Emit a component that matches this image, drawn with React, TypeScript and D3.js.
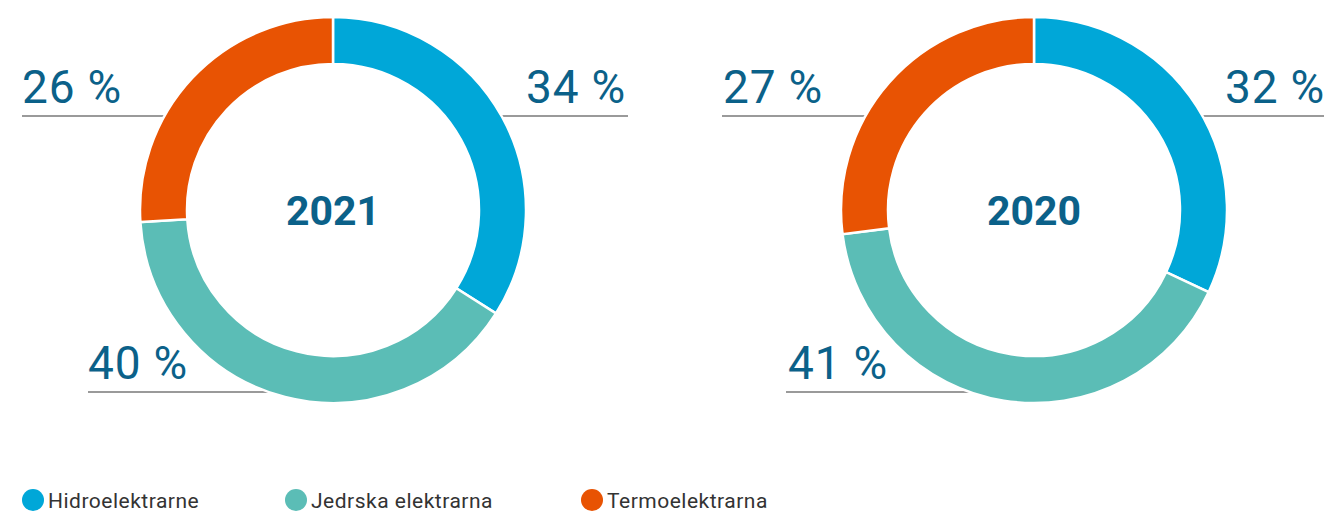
import React from 'react';
import * as d3 from 'd3';

const categories = ['Hidroelektrarne', 'Jedrska elektrarna', 'Termoelektrarna'];
const years = ['2021', '2020'];
const values2021 = [34, 40, 26];
const values2020 = [32, 41, 27];
const colors = ['#00a7d8', '#5bbdb6', '#e85303'];

const W = 1324;
const H = 511;
const outerR = 193;
const innerR = 146;
const labelColor = '#0b6189';
const lineColor = '#9a9a9a';

// label layout per slice: which side, line y offset from centre, line x extents (relative to centre)
const labelLayout = [
  [
    { anchor: 'end', x: 293, lineY: -94, x1: 160, x2: 295 },
    { anchor: 'start', x: -245, lineY: 182, x1: -245, x2: -50 },
    { anchor: 'start', x: -311, lineY: -94, x1: -311, x2: -160 },
  ],
  [
    { anchor: 'end', x: 291, lineY: -94, x1: 160, x2: 295 },
    { anchor: 'start', x: -246, lineY: 182, x1: -248, x2: -50 },
    { anchor: 'start', x: -311, lineY: -94, x1: -312, x2: -160 },
  ],
];

const centers = d3.scalePoint<string>().domain(years).range([333, 1034]);

function Donut({ year, values, idx }: { year: string; values: number[]; idx: number }) {
  const pie = d3.pie<number>().sort(null).value((d) => d);
  const arc = d3.arc<d3.PieArcDatum<number>>().innerRadius(innerR).outerRadius(outerR);
  const arcs = pie(values);
  const cx = centers(year) as number;
  const cy = 210;
  return (
    <g transform={`translate(${cx},${cy})`}>
      {labelLayout[idx].map((l, i) => (
        <line key={'l' + i} x1={l.x1} x2={l.x2} y1={l.lineY} y2={l.lineY} stroke={lineColor} strokeWidth={2} />
      ))}
      {arcs.map((a, i) => (
        <path key={i} d={arc(a) || ''} fill={colors[i]} stroke="#fff" strokeWidth={2.5} />
      ))}
      {labelLayout[idx].map((l, i) => (
        <text
          key={'t' + i}
          x={l.x}
          y={l.lineY - 13}
          textAnchor={l.anchor as any}
          fontFamily="Roboto, 'DejaVu Sans', sans-serif"
          fontSize={46}
          fill={labelColor}
          style={{ letterSpacing: '0.8px' }}
        >
          {values[i]} %
        </text>
      ))}
      <text
        x={0}
        y={15}
        textAnchor="middle"
        fontFamily="Roboto, 'DejaVu Sans', sans-serif"
        fontWeight={700}
        fontSize={41}
        fill={labelColor}
      >
        {year}
      </text>
    </g>
  );
}

export default function App() {
  const legendX = [33, 296, 592];
  return (
    <svg
      width={W}
      height={H}
      viewBox={`0 0 ${W} ${H}`}
      style={{ position: 'absolute', left: 0, top: 0, display: 'block', background: '#fff' }}
    >
      <Donut year={years[0]} values={values2021} idx={0} />
      <Donut year={years[1]} values={values2020} idx={1} />
      {categories.map((c, i) => (
        <g key={c} transform={`translate(${legendX[i]},500)`}>
          <circle r={11} fill={colors[i]} />
          <text
            x={15}
            y={8}
            fontFamily="Roboto, 'DejaVu Sans', sans-serif"
            fontSize={21}
            fill="#333"
            style={{ letterSpacing: '0.5px' }}
          >
            {c}
          </text>
        </g>
      ))}
    </svg>
  );
}
